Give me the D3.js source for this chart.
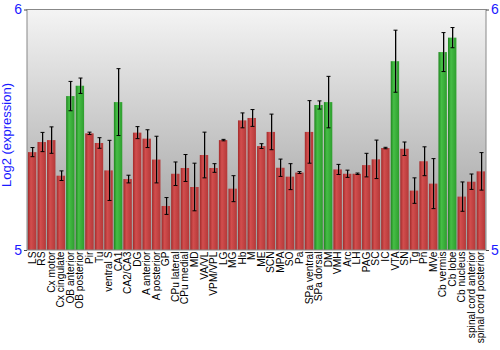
<!DOCTYPE html>
<html><head><meta charset="utf-8">
<script src="https://cdn.jsdelivr.net/npm/d3@7/dist/d3.min.js"></script>
<style>body{margin:0;background:#fff}svg{display:block}</style>
</head><body><svg id="c" width="500" height="350"></svg>
<script>
const categories = ["LS","RS","Cx motor","Cx cingulate","OB anterior","OB posterior","Pir","Tu","ventral S","CA1","CA2/CA3","DG","A anterior","A posterior","GP","CPu lateral","CPu medial","MD","VA/VL","VPM/VPL","LG","MG","Hb","M","ME","SCN","MPA","SO","Pa","SPa ventral","SPa dorsal","DM","VMH","Arc","LH","PAG","SC","IC","VTA","SN","Tg","Pn","MVe","Cb vermis","Cb lobe","Cb nucleus","spinal cord anterior","spinal cord posterior"];
const values = [5.407,5.449,5.457,5.309,5.640,5.683,5.485,5.445,5.331,5.615,5.295,5.488,5.463,5.376,5.183,5.317,5.341,5.262,5.395,5.341,5.457,5.255,5.539,5.549,5.432,5.491,5.342,5.305,5.322,5.491,5.603,5.615,5.335,5.317,5.317,5.353,5.377,5.424,5.785,5.421,5.247,5.369,5.276,5.823,5.883,5.222,5.284,5.327];
const errors = [0.019,0.040,0.055,0.020,0.061,0.032,0.005,0.022,0.125,0.139,0.016,0.025,0.037,0.097,0.035,0.049,0.056,0.099,0.095,0.018,0.003,0.054,0.031,0.035,0.010,0.074,0.036,0.054,0.004,0.130,0.017,0.107,0.021,0.015,0.003,0.049,0.080,0.003,0.129,0.028,0.053,0.060,0.104,0.081,0.042,0.061,0.032,0.078];
const highlighted = ["OB anterior","OB posterior","CA1","SPa dorsal","DM","VTA","Cb vermis","Cb lobe"];
const yTicks = [5, 6];
const yTitle = "Log2 (expression)";

const svg = d3.select("#c");
const L = 27, R = 486, T = 9.5, B = 250;
const x = d3.scaleBand().domain(categories).range([L, R]).paddingInner(0.12).paddingOuter(0.1);
const y = d3.scaleLinear().domain([5, 6]).range([B, T]);

const defs = svg.append("defs");
const bg = defs.append("linearGradient").attr("id","bg").attr("x1",0).attr("y1",0).attr("x2",0).attr("y2",1);
bg.append("stop").attr("offset","0%").attr("stop-color","#f4f4f4");
bg.append("stop").attr("offset","100%").attr("stop-color","#9c9c9c");
function barGrad(id, c0, c1, c2){
  const g = defs.append("linearGradient").attr("id",id).attr("x1",0).attr("y1",0).attr("x2",1).attr("y2",0);
  g.append("stop").attr("offset","0%").attr("stop-color",c0);
  g.append("stop").attr("offset","35%").attr("stop-color",c1);
  g.append("stop").attr("offset","100%").attr("stop-color",c2);
}
barGrad("gr","#a22a2a","#d24e4e","#b43838");
barGrad("gg","#1f861f","#46be46","#2e9e2e");

svg.append("rect").attr("x",L).attr("y",T).attr("width",R-L).attr("height",B-T).attr("fill","url(#bg)");

const data = categories.map((c,i)=>({c, v:values[i], e:errors[i], hi: highlighted.includes(c)}));

svg.append("g").selectAll("rect").data(data).join("rect")
  .attr("x", d=>x(d.c)).attr("width", x.bandwidth())
  .attr("y", d=>y(d.v)).attr("height", d=>y(5)-y(d.v))
  .attr("fill", d=>d.hi ? "url(#gg)" : "url(#gr)");

const eg = svg.append("g").attr("stroke","#000").attr("stroke-width",1);
data.forEach(d=>{
  const cx = Math.round(x(d.c) + x.bandwidth()/2) + 0.5;
  const y0 = y(d.v + d.e), y1 = y(d.v - d.e);
  eg.append("line").attr("x1",cx+1).attr("x2",cx+1).attr("y1",y0).attr("y2",y1).attr("stroke","#777").attr("stroke-opacity",0.6);
  eg.append("line").attr("x1",cx).attr("x2",cx).attr("y1",y0).attr("y2",y1);
  eg.append("line").attr("x1",cx-2).attr("x2",cx+2).attr("y1",y0).attr("y2",y0);
  eg.append("line").attr("x1",cx-2).attr("x2",cx+2).attr("y1",y1).attr("y2",y1);
});

svg.append("rect").attr("x",L).attr("y",T).attr("width",R-L).attr("height",B-T)
  .attr("fill","none").attr("stroke","#888").attr("stroke-width",1);

const font = "Liberation Sans, Arial, sans-serif";
const yl = svg.append("g").attr("transform",`translate(${L},0)`).call(d3.axisLeft(y).tickValues(yTicks).tickFormat(d3.format("d")).tickSize(3).tickPadding(2));
const yr = svg.append("g").attr("transform",`translate(${R},0)`).call(d3.axisRight(y).tickValues(yTicks).tickFormat(d3.format("d")).tickSize(3).tickPadding(2));
[yl, yr].forEach(g=>{
  g.select(".domain").remove();
  g.selectAll("line").attr("stroke","#444");
  g.selectAll("text").attr("fill","#1a1aff").attr("font-size","14px").attr("font-family",font);
});

const xl = svg.append("g").attr("transform",`translate(0,${B})`).call(d3.axisBottom(x).tickSize(0).tickPadding(0));
xl.select(".domain").remove();
xl.selectAll("text").attr("fill","#000").attr("font-size","10.2px").attr("font-family",font)
  .attr("text-anchor","end").attr("dy","0.35em")
  .attr("transform","translate(0,1.5) rotate(-90)").attr("x",0).attr("y",0);

svg.append("text").attr("transform",`translate(11,135) rotate(-90)`)
  .attr("text-anchor","middle").attr("fill","#1a1aff").attr("font-size","13px").attr("font-family",font)
  .text(yTitle);
</script></body></html>
